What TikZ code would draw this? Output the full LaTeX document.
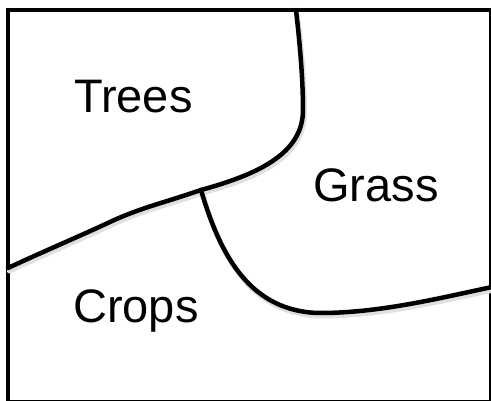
\documentclass[tikz,border=0pt]{standalone}
\usepackage{fontspec}
\setmainfont{Liberation Sans}
\begin{document}
\begin{tikzpicture}[x=1pt,y=-1pt,
  boundary/.style={line width=4.5pt,line cap=round,line join=round},
  shade line/.style={line width=5pt,draw=black!12,line cap=round},
  region/.style={anchor=base west,inner sep=0pt,font=\fontsize{47}{47}\selectfont}]
  \useasboundingbox (0,0) rectangle (491,401);
  \begin{scope}
    \clip (0,0) rectangle (491,401);
    % outer frame
    \draw[line width=4.5pt] (8,10) rectangle (491,402);
    % junction of the three regions
    \coordinate (j) at (201,190);
    % faint shadows below the boundaries
    \begin{scope}[shift={(1.5,3)}]
      \draw[shade line] (296,12) .. controls (300,45) and (303,80) .. (303,110)
        .. controls (303,155) and (255,175) .. (201,190)
        .. controls (160,204) and (140,208) .. (110,222)
        .. controls (80,236) and (40,253) .. (8,268);
      \draw[shade line] (201,190) .. controls (220,255) and (250,312) .. (320,313)
        .. controls (380,313) and (440,298) .. (492,287);
    \end{scope}
    % trees / grass / crops boundary
    \draw[boundary] (296,10) .. controls (300,45) and (303,80) .. (303,110)
      .. controls (303,155) and (255,175) .. (j)
      .. controls (160,204) and (140,208) .. (110,222)
      .. controls (80,236) and (40,253) .. (8,268);
    % crops / grass boundary
    \draw[boundary] (j) .. controls (220,255) and (250,312) .. (320,313)
      .. controls (380,313) and (440,298) .. (492,287);
  \end{scope}
  \node[region] (trees) at (74,113) {Trees};
  \node[region] (grass) at (313,202) {Grass};
  \node[region] (crops) at (73,323) {Crops};
\end{tikzpicture}
\end{document}
